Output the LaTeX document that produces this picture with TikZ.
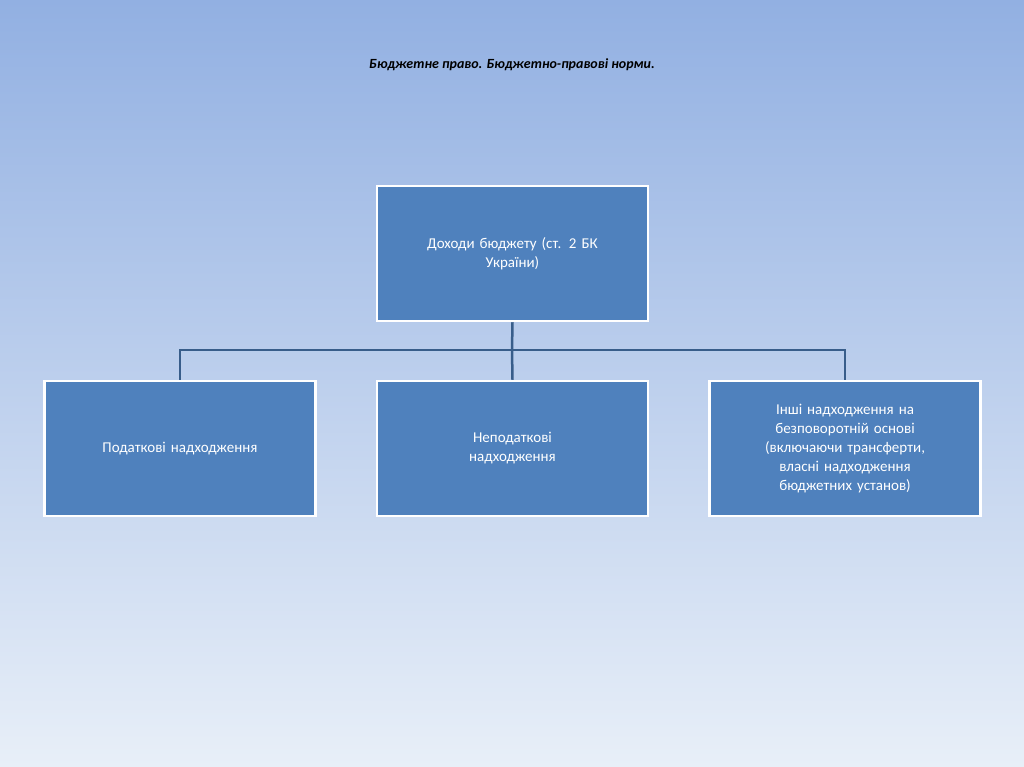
\documentclass[tikz,border=0pt]{standalone}
\usepackage{fontspec}
\setmainfont{Carlito}
\begin{document}
\begin{tikzpicture}[x=1pt,y=-1pt,
  box/.style={draw=white,line width=2.5pt,fill={rgb,255:red,79;green,129;blue,189},text=white,minimum width=271pt,minimum height=135pt,align=center,font=\fontsize{15}{19}\selectfont,inner sep=3pt},
  conn/.style={draw={rgb,255:red,56;green,93;blue,138},line width=2.5pt}]
\shade[top color={rgb,255:red,146;green,176;blue,226},bottom color={rgb,255:red,232;green,239;blue,248}] (0,0) rectangle (1024,767);
\useasboundingbox (0,0) rectangle (1024,767);
\node (title) at (512,65) {\fontsize{14}{17}\selectfont\bfseries\itshape Бюджетне право. Бюджетно-правові норми.};
\node[box,text width=262pt] (top) at (512.5,253.5) {Доходи бюджету (ст. 2 БК\\України)};
\node[box,text width=262pt] (b1) at (180,448.5) {Податкові надходження};
\node[box,text width=262pt] (b2) at (512.5,448.5) {Неподаткові\\надходження};
\node[box,text width=262pt] (b3) at (845,448.5) {Інші надходження на\\безповоротній основі\\(включаючи трансферти,\\власні надходження\\бюджетних установ)};
\coordinate (j) at (512,350);
\draw[conn] (top.south) -- (j);
\draw[conn] (b1.north) |- (j) -| (b3.north);
\draw[conn] (j) -- (b2.north);
\end{tikzpicture}
\end{document}
